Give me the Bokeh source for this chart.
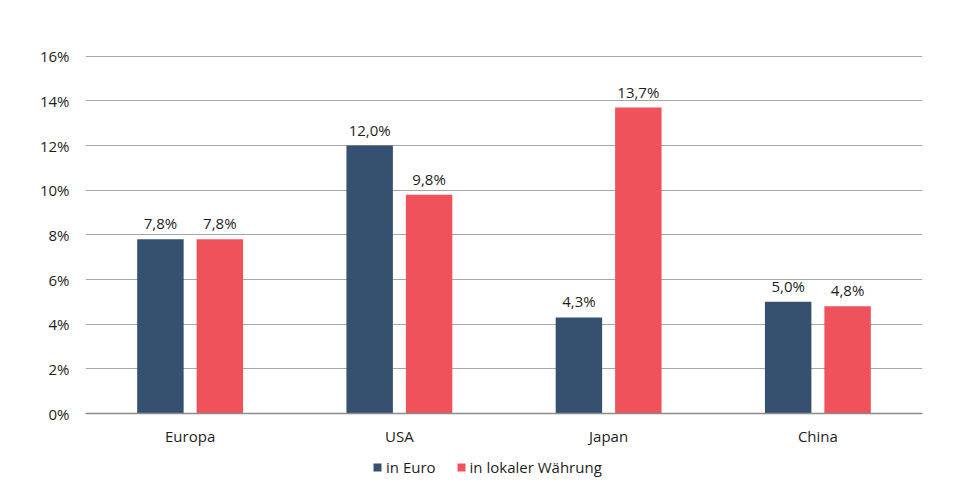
from bokeh.plotting import figure
from bokeh.layouts import column
from bokeh.models import ColumnDataSource, FactorRange, Legend, LegendItem, FixedTicker, CustomJSTickFormatter, Range1d
from bokeh.transform import dodge
from bokeh.core.properties import value
from bokeh.embed import file_html
from bokeh.resources import INLINE

categories = ["Europa", "USA", "Japan", "China"]
in_euro = [7.8, 12.0, 4.3, 5.0]
in_lokal = [7.8, 9.8, 13.7, 4.8]
series_names = ["in Euro", "in lokaler Währung"]
y_ticks = [0, 2, 4, 6, 8, 10, 12, 14, 16]

BLUE = "#36506f"
RED = "#ef525a"
FONT = "Open Sans"
TXT = "#1e1e1e"
FS = "15px"

def fmt(v):
    return ("%.1f%%" % v).replace(".", ",")

src = ColumnDataSource(dict(
    cat=categories,
    euro=in_euro,
    lokal=in_lokal,
    euro_lbl=[fmt(v) for v in in_euro],
    lokal_lbl=[fmt(v) for v in in_lokal],
))

p = figure(width=967, height=450, x_range=FactorRange(*categories), y_range=Range1d(0, 16.03),
           output_backend="svg", toolbar_location=None,
           min_border_left=85, min_border_right=45, min_border_top=55, min_border_bottom=37)
p.outline_line_color = None
p.background_fill_color = "white"
p.border_fill_color = "white"

r1 = p.vbar(x=dodge("cat", -0.142, range=p.x_range), top="euro", width=0.222, source=src,
            fill_color=BLUE, line_color=None)
r2 = p.vbar(x=dodge("cat", 0.142, range=p.x_range), top="lokal", width=0.222, source=src,
            fill_color=RED, line_color=None)

for col, lbl, off in (("euro", "euro_lbl", -0.142), ("lokal", "lokal_lbl", 0.142)):
    p.text(x=dodge("cat", off, range=p.x_range), y=col, text=lbl, source=src,
           text_align="center", text_baseline="bottom", y_offset=-6,
           text_font=value(FONT), text_font_size=FS, text_color=TXT)

p.yaxis.ticker = FixedTicker(ticks=y_ticks)
p.yaxis.formatter = CustomJSTickFormatter(code="return tick.toFixed(0) + '%';")
p.yaxis.axis_line_color = None
p.yaxis.major_tick_line_color = None
p.yaxis.minor_tick_line_color = None
p.yaxis.major_tick_out = 0
p.yaxis.minor_tick_out = 0
p.yaxis.major_label_text_font = FONT
p.yaxis.major_label_text_font_size = FS
p.yaxis.major_label_text_color = TXT
p.yaxis.major_label_standoff = 16

p.xaxis.axis_line_color = "#8c8c8c"
p.xaxis.axis_line_width = 1.5
p.xaxis.major_tick_line_color = None
p.xaxis.minor_tick_line_color = None
p.xaxis.major_tick_out = 0
p.xaxis.minor_tick_out = 0
p.xaxis.major_label_text_font = FONT
p.xaxis.major_label_text_font_size = FS
p.xaxis.major_label_text_color = TXT
p.xaxis.major_label_standoff = 12

p.xgrid.grid_line_color = None
p.ygrid.grid_line_color = "#a6a6a6"
p.ygrid.grid_line_width = 1

# legend strip below the chart
lg = figure(width=967, height=48, x_range=Range1d(0, 1), y_range=Range1d(0, 1),
            output_backend="svg", toolbar_location=None,
            min_border_left=0, min_border_right=0, min_border_top=0, min_border_bottom=0)
lg.axis.visible = False
lg.grid.visible = False
lg.outline_line_color = None
lg.border_fill_color = "white"
d1 = lg.vbar(x=[-5], top=[0], width=0.1, fill_color=BLUE, line_color=None)
d2 = lg.vbar(x=[-5], top=[0], width=0.1, fill_color=RED, line_color=None)

legend = Legend(items=[LegendItem(label=series_names[0], renderers=[d1]),
                       LegendItem(label=series_names[1], renderers=[d2])],
                orientation="horizontal", location=(287, 21),
                label_text_font=FONT, label_text_font_size=FS, label_text_color=TXT,
                glyph_width=10, glyph_height=10, label_standoff=4, spacing=20,
                border_line_color=None, background_fill_alpha=0, margin=0, padding=4)
lg.add_layout(legend, "center")

layout = column(p, lg, spacing=0)
open("out.html", "w").write(file_html(layout, INLINE))
